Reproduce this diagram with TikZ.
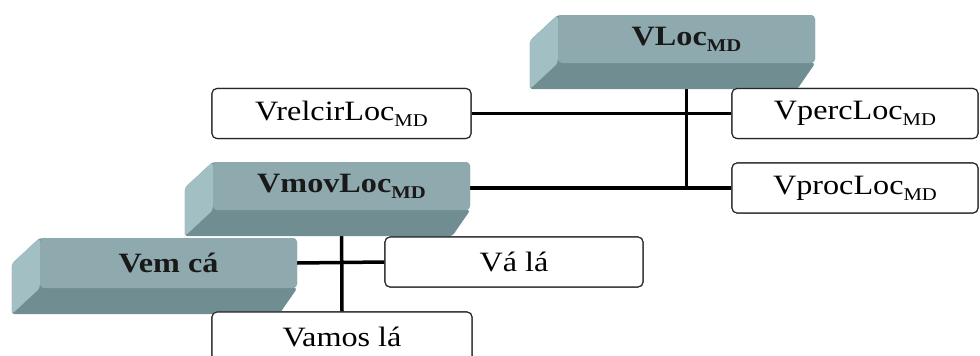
\documentclass[tikz,border=0pt]{standalone}
\usepackage{fontspec}
\setmainfont{Liberation Serif}[FakeStretch=1.15]
\usetikzlibrary{calc}
\definecolor{slabfront}{HTML}{8FAAAE}
\definecolor{slabbottom}{HTML}{708D92}
\definecolor{slabside}{HTML}{A2C0C4}
\newcommand\mdsub{\raisebox{-6pt}{\fontsize{18}{18}\selectfont MD}}
\tikzset{
  wbox/.style={draw=black!85, line width=1.1pt, rounded corners=5pt, fill=white,
    minimum height=50pt, inner sep=0pt, font=\fontsize{28}{30}\selectfont},
  slab/.style={fill=slabfront, rounded corners=4pt, minimum height=48pt, inner sep=0pt,
    font=\fontsize{28}{30}\selectfont\bfseries, text=black!90},
  conn/.style={line width=3.5pt, draw=black},
}
\newcommand\extrude[1]{%
  \fill[slabbottom, rounded corners=3pt] (#1.north west) -- ++(-28,26) |- ($(#1.south east)+(-18,26)$) -- (#1.south east) -- cycle;
  \fill[slabside, rounded corners=3pt] (#1.north west) -- ++(-28,26) -- ++(0,48) -- ($(#1.south west)+(-28,26)$) -- (#1.south west) -- cycle;
}
\begin{document}
\begin{tikzpicture}[x=1pt,y=-1pt]
\clip (0,0) rectangle (980,356);
\useasboundingbox (0,0) rectangle (980,356);
\fill[white] (0,0) rectangle (980,356);
% node placement (front faces / boxes)
\node[slab, minimum width=257pt] (VLoc) at (686.5,39) {VLoc\mdsub};
\node[slab, minimum width=257pt] (VmovLoc) at (341.5,186) {VmovLoc\mdsub};
\node[slab, minimum width=257pt, minimum height=50pt] (VemCa) at (168.5,263) {Vem cá};
\node[wbox, minimum width=259pt] (Vrelcir) at (341.5,113.5) {VrelcirLoc\mdsub};
\node[wbox, minimum width=246pt] (Vperc) at (855,113.5) {VpercLoc\mdsub};
\node[wbox, minimum width=246pt] (Vproc) at (855,188) {VprocLoc\mdsub};
\node[wbox, minimum width=258pt] (VaLa) at (514,262) {Vá lá};
\node[wbox, minimum width=260pt] (Vamos) at (342,337) {Vamos lá};
% connectors (drawn beneath slabs and boxes)
\draw[conn] (VLoc.south) -- (VLoc.south |- Vproc.west);
\draw[conn] (Vrelcir.east) -- (Vperc.west);
\draw[conn] (Vproc.west) -- (Vproc.west -| VmovLoc.east);
\draw[conn] (VmovLoc.south) -- (Vamos.north);
\draw[conn] (VemCa.east) -- (VaLa.west);
% slabs
\extrude{VLoc}
\node[slab, minimum width=257pt] at (VLoc) {VLoc\mdsub};
\extrude{VmovLoc}
\node[slab, minimum width=257pt] at (VmovLoc) {VmovLoc\mdsub};
\extrude{VemCa}
\node[slab, minimum width=257pt, minimum height=50pt] at (VemCa) {Vem cá};
% white boxes on top
\node[wbox, minimum width=259pt] at (Vrelcir) {VrelcirLoc\mdsub};
\node[wbox, minimum width=246pt] at (Vperc) {VpercLoc\mdsub};
\node[wbox, minimum width=246pt] at (Vproc) {VprocLoc\mdsub};
\node[wbox, minimum width=258pt] at (VaLa) {Vá lá};
\node[wbox, minimum width=260pt] at (Vamos) {Vamos lá};
\end{tikzpicture}
\end{document}
